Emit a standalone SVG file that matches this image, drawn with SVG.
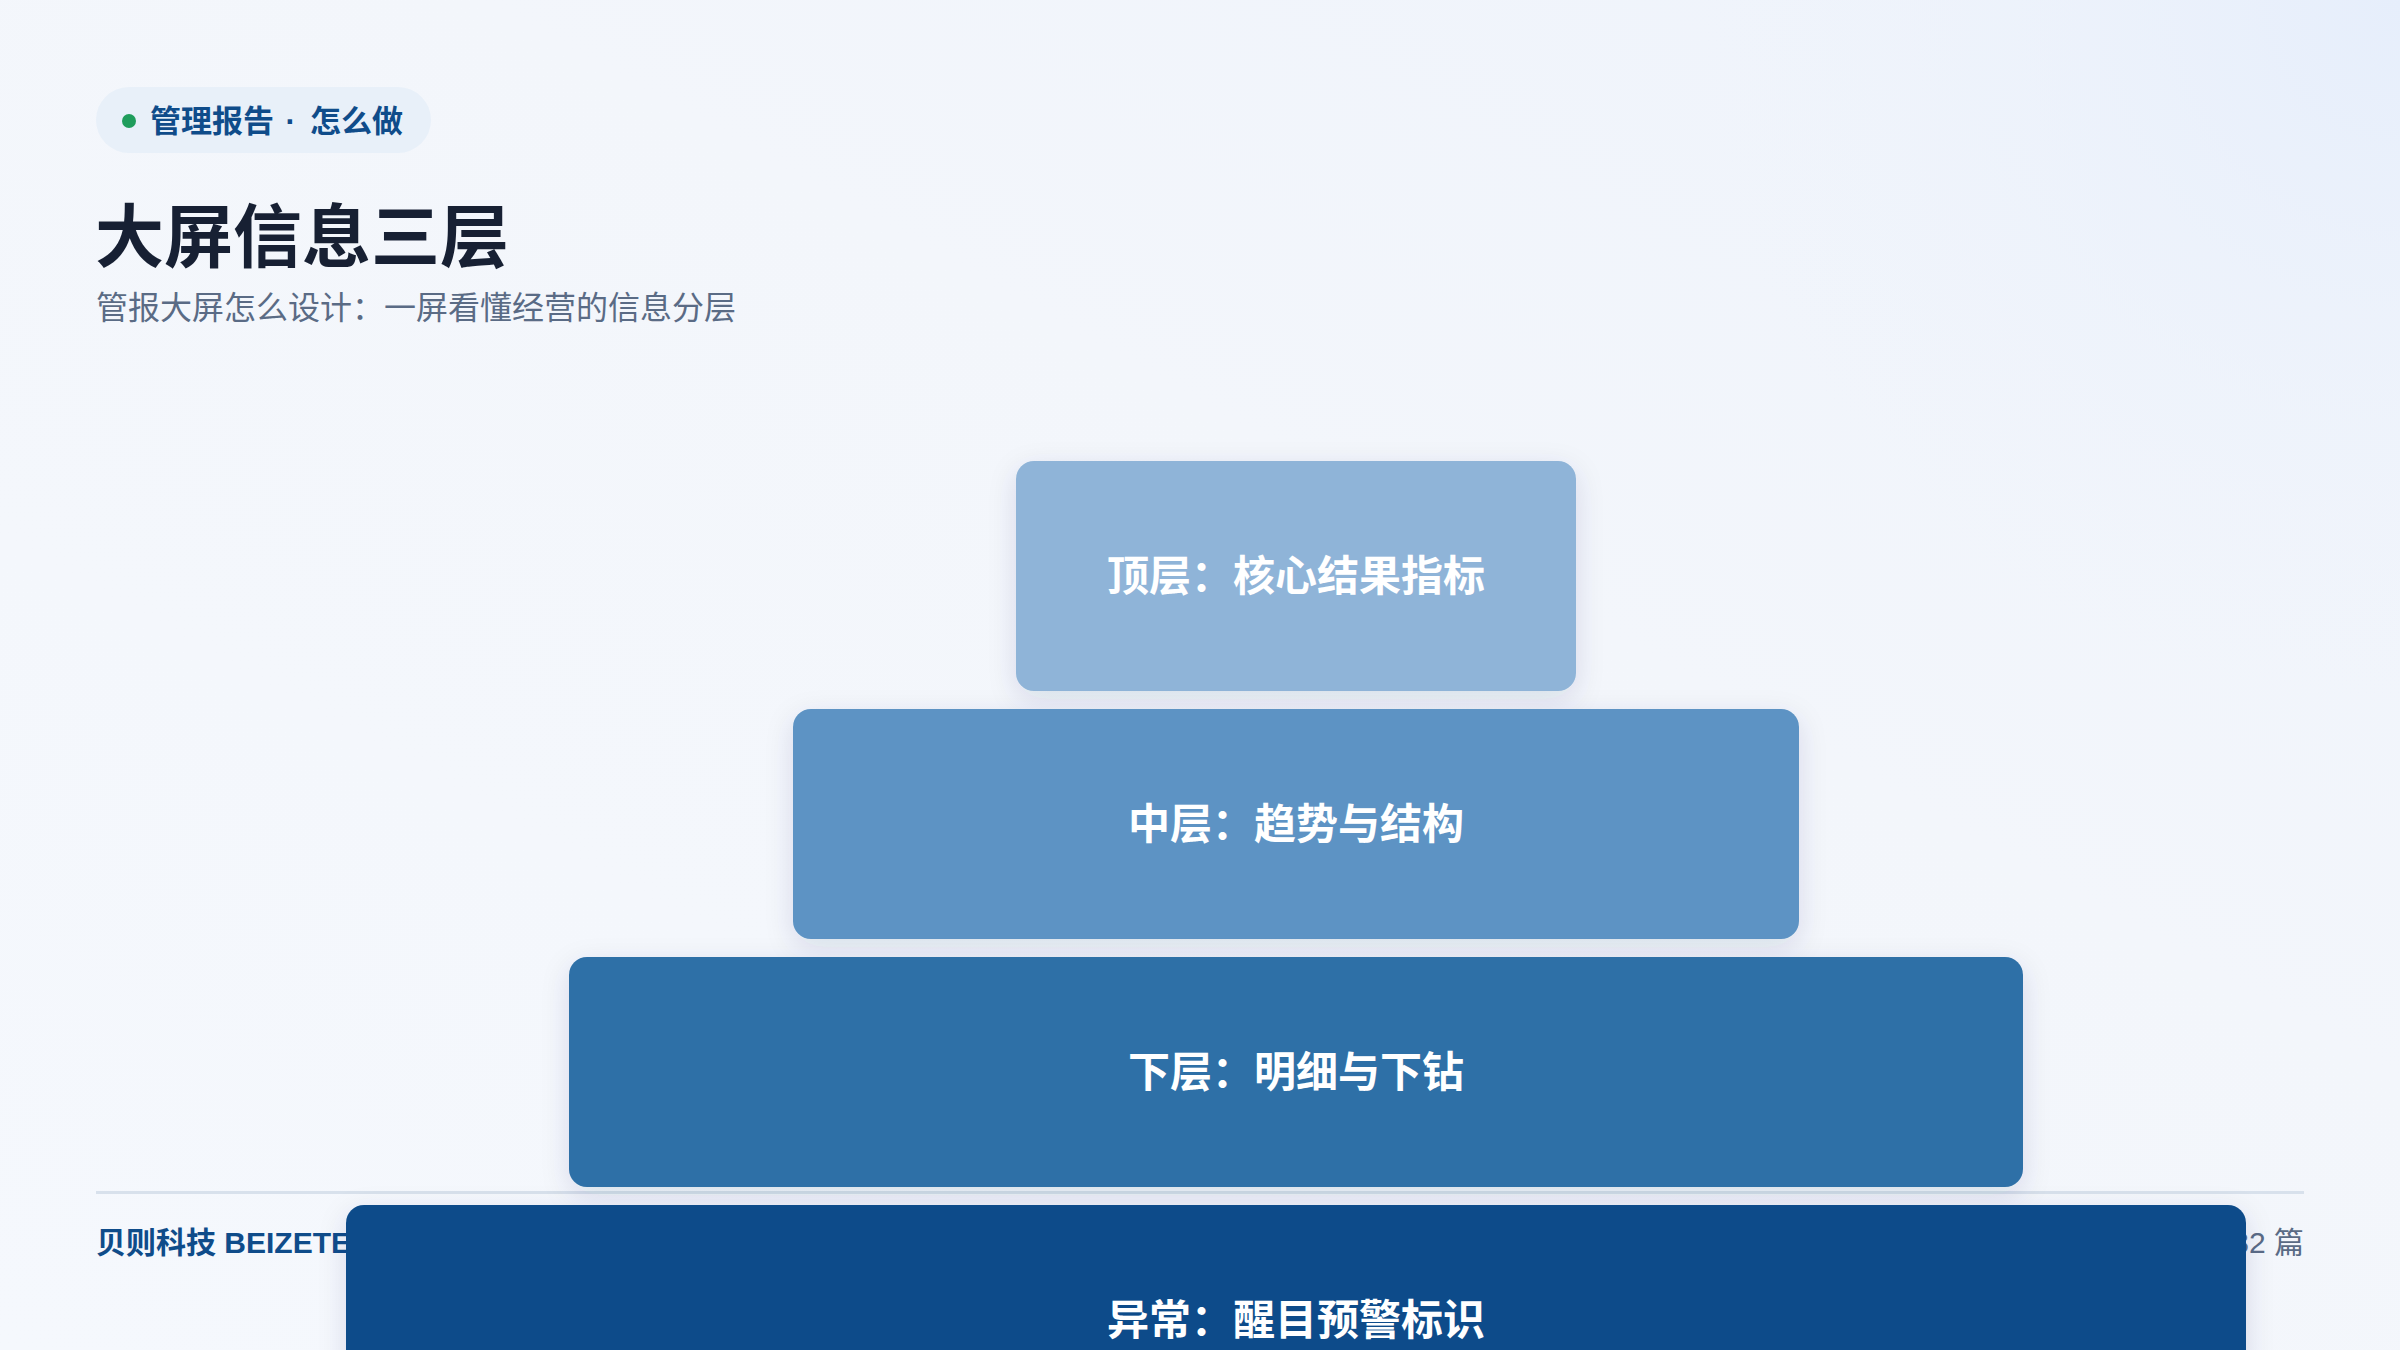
<svg xmlns="http://www.w3.org/2000/svg" width="2400" height="1350" viewBox="0 0 2400 1350">
  <defs>
    <linearGradient id="bg" x1="0" y1="1" x2="1" y2="0">
      <stop offset="0" stop-color="#f5f8fd"/>
      <stop offset="0.6" stop-color="#f3f6fb"/>
      <stop offset="1" stop-color="#eef3fb"/>
    </linearGradient>
    <radialGradient id="glow" cx="2400" cy="0" r="700" gradientUnits="userSpaceOnUse">
      <stop offset="0" stop-color="#e6eefb" stop-opacity="1"/>
      <stop offset="1" stop-color="#eef3fb" stop-opacity="0"/>
    </radialGradient>
    <filter id="shadow" x="-10%" y="-30%" width="120%" height="160%">
      <feDropShadow dx="0" dy="8" stdDeviation="14" flood-color="#1e3a66" flood-opacity="0.12"/>
    </filter>
    <style>
      .cjk { font-family: "Noto Sans CJK SC", "Noto Sans", sans-serif; }
      .lbl { font-family: "Noto Sans CJK SC", "Noto Sans", sans-serif; font-size: 42px; font-weight: 700; fill: #ffffff; text-anchor: middle; }
      .foot { font-family: "Liberation Sans", "Noto Sans CJK SC", sans-serif; font-size: 30px; }
    </style>
  </defs>

  <rect x="0" y="0" width="2400" height="1350" fill="url(#bg)"/>
  <rect x="0" y="0" width="2400" height="1350" fill="url(#glow)"/>

  <g id="header">
    <rect x="96" y="87" width="335" height="66" rx="33" fill="#e8f0f9"/>
    <circle cx="129" cy="121" r="7" fill="#1f9d5c"/>
    <text y="132" class="cjk" font-size="31" font-weight="700" fill="#0f4c8a"><tspan x="150">管理报告</tspan><tspan x="277" font-family="Liberation Sans, sans-serif"> · </tspan><tspan x="310">怎么做</tspan></text>
    <text x="95" y="262" class="cjk" font-size="69" font-weight="700" fill="#172033">大屏信息三层</text>
    <text x="96" y="319" class="cjk" font-size="32" fill="#5a6b85">管报大屏怎么设计：一屏看懂经营的信息分层</text>
  </g>

  <g id="footer">
    <rect x="96" y="1191" width="2208" height="3" fill="#d8e1ec"/>
    <text x="96" y="1253" class="foot" font-weight="700" fill="#0f4c8a">贝则科技 BEIZETECH</text>
    <text x="2304" y="1253" class="foot" fill="#5a6b85" text-anchor="end">第 32 篇</text>
  </g>

  <g id="connectors"></g>

  <g id="node-top">
    <rect x="1016" y="461" width="560" height="230" rx="18" fill="#8fb4d8" filter="url(#shadow)"/>
    <text x="1296" y="591" class="lbl">顶层：核心结果指标</text>
  </g>
  <g id="node-middle">
    <rect x="793" y="709" width="1006" height="230" rx="18" fill="#5d93c4" filter="url(#shadow)"/>
    <text x="1296" y="839" class="lbl">中层：趋势与结构</text>
  </g>
  <g id="node-bottom">
    <rect x="569" y="957" width="1454" height="230" rx="18" fill="#2e6fa7" filter="url(#shadow)"/>
    <text x="1296" y="1087" class="lbl">下层：明细与下钻</text>
  </g>
  <g id="node-alert">
    <rect x="346" y="1205" width="1900" height="230" rx="18" fill="#0f4c8a" filter="url(#shadow)"/>
    <text x="1296" y="1335" class="lbl">异常：醒目预警标识</text>
  </g>
</svg>
